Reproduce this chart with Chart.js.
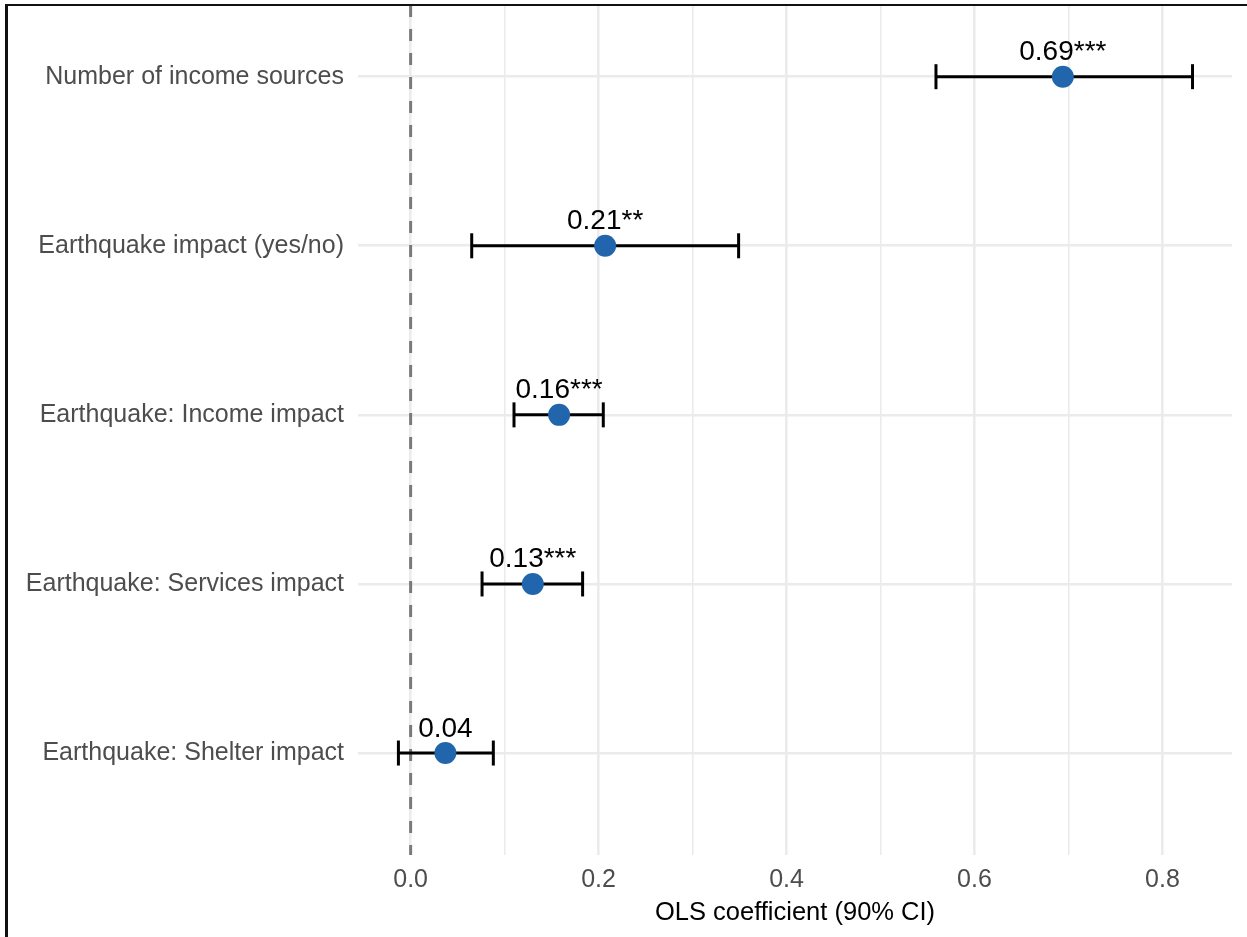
<!DOCTYPE html>
<html>
<head>
<meta charset="utf-8">
<title>OLS coefficients</title>
<script src="https://cdn.jsdelivr.net/npm/chart.js@4/dist/chart.umd.min.js"></script>
<style>
  html, body { margin: 0; padding: 0; background: #ffffff; }
  canvas { display: block; }
</style>
</head>
<body>
<canvas id="chart" width="1247" height="937"></canvas>
<script>
// Coefficient estimates with 90% confidence intervals
const categories = [
  'Number of income sources',
  'Earthquake impact (yes/no)',
  'Earthquake: Income impact',
  'Earthquake: Services impact',
  'Earthquake: Shelter impact'
];
const coefficients = [0.694, 0.207, 0.158, 0.130, 0.037];
const ciLow = [0.559, 0.065, 0.110, 0.076, -0.013];
const ciHigh = [0.832, 0.349, 0.205, 0.183, 0.088];
const stars = ['***', '**', '***', '***', ''];
const xTickValues = [0, 0.1, 0.2, 0.3, 0.4, 0.5, 0.6, 0.7, 0.8];

const FONT = '"Liberation Sans", Arial, Helvetica, sans-serif';
Chart.defaults.font.family = FONT;

const Y_MIN = -0.424;
const Y_MAX = 4.603;
const isMajor = v => Math.round(v * 10) % 2 === 0;

// dashed reference line at zero
const zeroLine = {
  type: 'line',
  data: [{ x: 0, y: Y_MIN }, { x: 0, y: Y_MAX }],
  borderColor: '#7a7a7a',
  borderWidth: 3,
  borderDash: [12, 12],
  pointRadius: 0,
  order: 10
};

// one horizontal interval per term, with vertical caps
const intervals = categories.map((c, i) => ({
  type: 'line',
  data: [{ x: ciLow[i], y: i }, { x: ciHigh[i], y: i }],
  borderColor: '#000000',
  borderWidth: 3,
  pointStyle: 'line',
  pointRotation: 90,
  pointRadius: 12.5,
  pointBorderWidth: 3,
  pointBorderColor: '#000000',
  pointBackgroundColor: '#000000',
  order: 5
}));

const estimates = {
  type: 'line',
  showLine: false,
  data: coefficients.map((v, i) => ({ x: v, y: i })),
  pointRadius: 11,
  pointBackgroundColor: '#2166ac',
  pointBorderWidth: 0,
  order: 1
};

// value labels above each estimate
const valueLabels = {
  id: 'valueLabels',
  afterDatasetsDraw(chart) {
    const { ctx, scales } = chart;
    ctx.save();
    ctx.font = '28px ' + FONT;
    ctx.fillStyle = '#000000';
    ctx.textAlign = 'center';
    ctx.textBaseline = 'alphabetic';
    coefficients.forEach((v, i) => {
      const x = scales.x.getPixelForValue(v);
      const y = scales.y.getPixelForValue(i);
      ctx.fillText(v.toFixed(2) + stars[i], x, y - 16.5);
    });
    ctx.restore();
  }
};

// figure frame along the top and left edges
const frame = {
  id: 'frame',
  afterDraw(chart) {
    const { ctx } = chart;
    ctx.save();
    ctx.fillStyle = '#111111';
    ctx.fillRect(5, 4, chart.width - 5, 2);
    ctx.fillRect(5, 4, 3, chart.height - 4);
    ctx.restore();
  }
};

new Chart(document.getElementById('chart'), {
  type: 'line',
  data: { datasets: [zeroLine, ...intervals, estimates] },
  options: {
    responsive: false,
    animation: false,
    events: [],
    layout: { autoPadding: false, padding: { left: 0, right: 15, top: 5, bottom: 0 } },
    plugins: {
      legend: { display: false },
      tooltip: { enabled: false }
    },
    scales: {
      x: {
        type: 'linear',
        min: -0.056,
        max: 0.874,
        afterBuildTicks: scale => { scale.ticks = xTickValues.map(v => ({ value: v })); },
        afterFit: scale => {
          scale.height = 82;
          scale.paddingLeft = 0;
          scale.paddingRight = 0;
        },
        border: { display: false },
        grid: {
          color: '#ebebeb',
          lineWidth: ctx => (ctx.tick && isMajor(ctx.tick.value)) ? 2.6 : 1.6,
          drawTicks: false
        },
        ticks: {
          autoSkip: false,
          maxRotation: 0,
          padding: 10,
          color: '#4d4d4d',
          font: { size: 25 },
          callback: v => isMajor(v) ? v.toFixed(1) : ''
        },
        title: {
          display: true,
          text: 'OLS coefficient (90% CI)',
          color: '#000000',
          font: { size: 25.5 },
          padding: { top: 0, bottom: 9 }
        }
      },
      y: {
        type: 'linear',
        reverse: true,
        min: Y_MIN,
        max: Y_MAX,
        afterBuildTicks: scale => { scale.ticks = categories.map((c, i) => ({ value: i })); },
        afterFit: scale => {
          scale.width = 358;
          scale.paddingTop = 0;
          scale.paddingBottom = 0;
        },
        border: { display: false },
        grid: { color: '#ebebeb', lineWidth: 2.6, drawTicks: false },
        ticks: {
          autoSkip: false,
          padding: 14,
          color: '#4d4d4d',
          font: { size: 25 },
          callback: v => categories[v]
        }
      }
    }
  },
  plugins: [valueLabels, frame]
});
</script>
</body>
</html>
